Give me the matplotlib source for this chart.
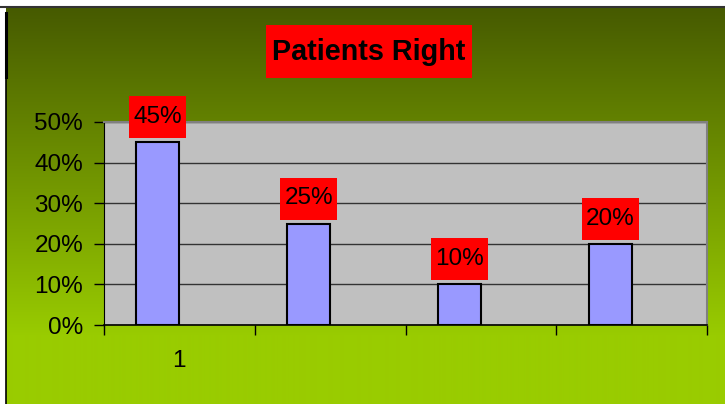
import numpy as np
import matplotlib
matplotlib.use("Agg")
import matplotlib.pyplot as plt
from matplotlib.ticker import FuncFormatter
from matplotlib.patches import Rectangle
from matplotlib.transforms import ScaledTranslation

plt.rcParams['font.family'] = ['Liberation Sans', 'DejaVu Sans']

# data
categories = [1, 2, 3, 4]
values = [0.45, 0.25, 0.10, 0.20]
labels = ['45%', '25%', '10%', '20%']
tick_labels = ['1', '', '', '']
title = 'Patients Right'

W, H = 725, 404
fig = plt.figure(figsize=(W / 100, H / 100), dpi=100)
fig.patch.set_facecolor('white')

# background gradient
bg = fig.add_axes([0, 0, 1, 1])
bg.set_xlim(0, W)
bg.set_ylim(H, 0)
bg.axis('off')
top_c = np.array([0x46, 0x5a, 0x00]) / 255
bot_c = np.array([0x99, 0xcc, 0x00]) / 255
ys = np.arange(7, H)
t = np.clip((ys - 7) / (335 - 7), 0, 1)
grad = top_c[None, :] * (1 - t[:, None]) + bot_c[None, :] * t[:, None]
img = np.repeat(grad[:, None, :], 2, axis=1)
bg.imshow(img, extent=(6, W, H, 7), aspect='auto', interpolation='bilinear')
bg.plot([0, W], [6.5, 6.5], color='#333333', lw=1.5)
bg.plot([6, 6], [13, 77], color='black', lw=2.2)
bg.plot([6, 6], [77, H], color='black', lw=1.2)

# title box
bg.add_patch(Rectangle((266, 25), 206, 53, fc='red', ec='none'))
bg.text(369, 52, title, ha='center', va='center', fontsize=20.7,
        fontweight='bold', color='black')

# plot area
ax = fig.add_axes([104 / W, (H - 325) / H, (707 - 104) / W, (325 - 122) / H])
ax.set_facecolor('#c0c0c0')
ax.set_xlim(0.5, 4.5)
ax.set_ylim(0, 0.5)

bw = 0.285
ax.bar([c - bw for c in categories], values, width=bw, align='edge',
       color='#9999ff', edgecolor='black', linewidth=1.5, zorder=3)

ax.set_yticks(np.arange(0, 0.51, 0.1))
ax.yaxis.set_major_formatter(FuncFormatter(lambda v, p: f'{v * 100:.0f}%'))
ax.grid(axis='y', color='#333333', lw=1, zorder=1)
ax.tick_params(axis='y', direction='out', length=7, width=1, pad=8,
               labelsize=17.5, colors='black')

ax.set_xticks([0.5, 1.5, 2.5, 3.5, 4.5])
ax.set_xticklabels([])
ax.set_xticks(categories, minor=True)
ax.set_xticklabels(tick_labels, minor=True)
ax.tick_params(axis='x', which='major', direction='out', length=7, width=1)
ax.tick_params(axis='x', which='minor', length=0, pad=18, labelsize=17.5)

for s in ['top', 'right']:
    ax.spines[s].set_color('#808080')
    ax.spines[s].set_linewidth(1.5)
ax.spines['left'].set_color('black')
ax.spines['bottom'].set_color('black')
ax.spines['bottom'].set_linewidth(1.2)

# data labels in red boxes (box sizes in inches, anchored at bar top)
for c, v, lab in zip(categories, values, labels):
    tr = fig.dpi_scale_trans + ScaledTranslation(c - bw / 2, v, ax.transData)
    ax.add_patch(Rectangle((-0.285, 0.04), 0.57, 0.42, transform=tr,
                           fc='red', ec='none', zorder=4, clip_on=False))
    ax.text(0, 0.25, lab, transform=tr, ha='center', va='center',
            fontsize=17.5, color='black', zorder=5, clip_on=False)

fig.savefig('out.png', dpi=100)
